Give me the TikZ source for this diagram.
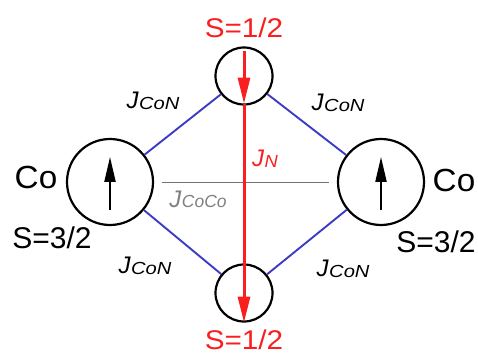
\documentclass[tikz,border=0pt]{standalone}
\usepackage{fontspec}
\setmainfont{Liberation Sans}
\usetikzlibrary{arrows.meta,positioning,calc}
\definecolor{bondblue}{RGB}{60,60,195}
\definecolor{spinred}{RGB}{250,30,30}
\definecolor{cocogray}{RGB}{128,128,128}
\newcommand{\Jlab}[2][1]{\textit{J}\kern0.5pt\raisebox{-1pt}{\scalebox{#1}[1]{\fontsize{17.5}{17.5}\selectfont\itshape #2}}}
\newcommand{\wide}[2][1.1]{\scalebox{#1}[1]{#2}}

\begin{document}
\begin{tikzpicture}[
  x=1pt, y=-1pt,
  site/.style={draw, circle, line width=2.2pt, minimum size=86pt, inner sep=0pt},
  nsite/.style={site, minimum size=57pt},
  bond/.style={draw=bondblue, line width=1.9pt},
  coco/.style={draw=cocogray!90!black, line width=0.9pt},
  spin/.style={draw, line width=2pt, -{Triangle[length=25pt, width=11pt]}},
  nspin/.style={draw=spinred, line width=3pt, -{Triangle[length=26pt, width=12pt]}},
  colbl/.style={inner sep=0pt, anchor=base, font=\fontsize{32}{32}\selectfont},
  slbl/.style={inner sep=0pt, anchor=base, font=\fontsize{30}{30}\selectfont},
  nlbl/.style={inner sep=0pt, anchor=base, text=spinred, font=\fontsize{27}{27}\selectfont},
  jlbl/.style={inner sep=0pt, anchor=base, font=\fontsize{24}{24}\selectfont}
]
\useasboundingbox (0,0) rectangle (478,355);

% sites
\node[site] (coL) at (110,182) {};
\node[site] (coR) at (381,182) {};
\node[nsite] (nTop) at (244,76) {};
\node[nsite] (nBot) at (244,293) {};

% exchange paths
\draw[bond] (coL) -- (nTop);
\draw[bond] (nTop) -- (coR);
\draw[bond] (coL) -- (nBot);
\draw[bond] (nBot) -- (coR);
\draw[coco] ([xshift=8pt]coL.east) -- ([xshift=-8pt]coR.west);

% spins
\draw[spin] ([yshift=16pt]coL.south) -- ([yshift=-19pt]coL.north);
\draw[spin] ([yshift=16pt]coR.south) -- ([yshift=-19pt]coR.north);
\draw[nspin] ([yshift=-5pt]nTop.north) -- ([yshift=2pt]nTop.south);
\draw[nspin] ([yshift=2pt]nTop.south) -- (nBot.south);

% labels
\node[colbl] (coLtxt) at (36,188) {\wide[1.04]{Co}};
\node[colbl] (coRtxt) at (454,192) {\wide[1.04]{Co}};
\node[slbl] (sL) at (52,248) {S=3/2};
\node[slbl] (sR) at (436,252) {S=3/2};
\node[nlbl] (sTop) at (244,38) {\wide{S=1/2}};
\node[nlbl] (sBot) at (244,349) {\wide{S=1/2}};
\node[jlbl] (jTL) at (153,109) {\Jlab[1.15]{CoN}};
\node[jlbl] (jTR) at (338,111) {\Jlab[1.15]{CoN}};
\node[jlbl] (jBL) at (145,273) {\Jlab[1.15]{CoN}};
\node[jlbl] (jBR) at (343,276) {\Jlab[1.15]{CoN}};
\node[jlbl, text=spinred] (jN) at (265,167) {\Jlab[1.05]{N}};
\node[jlbl, text=cocogray] (jCoCo) at (198,207) {\Jlab{CoCo}};
\end{tikzpicture}
\end{document}
